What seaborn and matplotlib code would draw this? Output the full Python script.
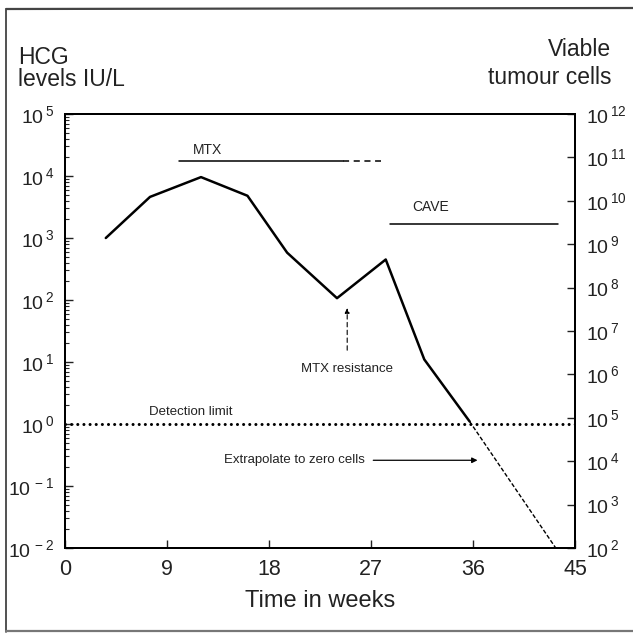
import matplotlib
matplotlib.use('Agg')
from matplotlib import pyplot as plt
from matplotlib.lines import Line2D
import matplotlib.ticker as mtick
import seaborn as sns
import numpy as np

# HCG curve (weeks, IU/L)
weeks = [3.6, 7.5, 12.0, 16.1, 19.6, 24.0, 28.3, 31.7, 35.7]
hcg = [1.0e3, 4.6e3, 9.6e3, 4.8e3, 5.8e2, 1.07e2, 4.5e2, 1.1e1, 1.1]

# extrapolation below the detection limit
extrap_weeks = [35.7, 43.3]
extrap_hcg = [1.1, 1.0e-2]

# treatment bars
mtx_weeks = [10.1, 24.5, 27.9]
mtx_level = 1.75e4
cave_weeks = [28.7, 43.5]
cave_level = 1.7e3

detection_limit = 1.0
resistance_week = 24.9

x_ticks = [0, 9, 18, 27, 36, 45]
left_decades = list(range(-2, 6))
right_decades = list(range(2, 13))

INK = '#222222'


def power_label(v, pos=None):
    return f'$10^{{\\,{int(round(np.log10(v)))}}}$'


sns.set_theme(style='white')
plt.rcParams['font.family'] = ['Liberation Sans', 'DejaVu Sans']
plt.rcParams['mathtext.default'] = 'regular'
plt.rcParams['text.color'] = INK

fig = plt.figure(figsize=(6.33, 6.33), dpi=100)
ax = fig.add_axes([65 / 633, 1 - 548 / 633, 510 / 633, 434 / 633])

sns.lineplot(x=weeks, y=hcg, ax=ax, color='black', lw=1.8, estimator=None)
sns.lineplot(x=extrap_weeks, y=extrap_hcg, ax=ax, color='black', lw=1.0,
             linestyle=(0, (3, 1.5)), estimator=None)

ax.axhline(detection_limit, color='black', lw=2.2, ls=(0, (0.01, 2.0)),
           dash_capstyle='round')

# MTX bar: solid, then trailing dashes
ax.plot(mtx_weeks[:2], [mtx_level] * 2, color='black', lw=1.1)
ax.plot(mtx_weeks[1:], [mtx_level] * 2, color='black', lw=1.1, ls=(0, (4, 3)))
ax.plot(cave_weeks, [cave_level] * 2, color='black', lw=1.1)

ax.text(12.6, 2.6e4, 'MTX', fontsize=10, ha='center', va='center')
ax.text(32.3, 3.2e3, 'CAVE', fontsize=10, ha='center', va='center')
ax.text(11.1, 1.55, 'Detection limit', fontsize=9.5, ha='center', va='center')
ax.text(resistance_week, 7.7, 'MTX resistance', fontsize=9.5, ha='center', va='center')
ax.annotate('', xy=(resistance_week, 74), xytext=(resistance_week, 15.5),
            arrowprops=dict(arrowstyle='-|>', lw=0.8, ls=(0, (4, 3)),
                            color='black', mutation_scale=7, shrinkA=0, shrinkB=0))
ax.text(26.5, 0.26, 'Extrapolate to zero cells', fontsize=9.5, ha='right', va='center')
ax.annotate('', xy=(36.4, 0.26), xytext=(27.2, 0.26),
            arrowprops=dict(arrowstyle='-|>', lw=0.9, color='black',
                            mutation_scale=8, shrinkA=0, shrinkB=0))

ax.set_yscale('log')
ax.set_xlim(0, 45)
ax.set_ylim(1e-2, 1e5)
ax.set_xticks(x_ticks)
ax.set_xticklabels([str(t) for t in x_ticks])
ax.set_yticks([10.0 ** d for d in left_decades])
ax.yaxis.set_major_formatter(mtick.FuncFormatter(power_label))
ax.yaxis.set_minor_locator(mtick.LogLocator(base=10, subs=np.arange(2, 10)))
ax.yaxis.set_minor_formatter(mtick.NullFormatter())
ax.tick_params(axis='x', direction='in', length=6, width=1, labelsize=15.5,
               pad=8, colors=INK, bottom=True)
ax.tick_params(axis='y', which='major', direction='in', length=6, width=1,
               labelsize=14, pad=8, colors=INK, left=True)
ax.tick_params(axis='y', which='minor', direction='in', length=3, width=0.8,
               left=True)
ax.set_xlabel('Time in weeks', fontsize=17, labelpad=7, color=INK)
ax.set_ylabel('')

ax2 = ax.twinx()
ax2.set_yscale('log')
ax2.set_ylim(1e2, 1e12)
ax2.set_yticks([10.0 ** d for d in right_decades])
ax2.yaxis.set_major_formatter(mtick.FuncFormatter(power_label))
ax2.yaxis.set_minor_locator(mtick.NullLocator())
ax2.tick_params(axis='y', direction='in', length=6, width=1, labelsize=14,
                pad=8, colors=INK, right=True)

for a in (ax, ax2):
    for s in a.spines.values():
        s.set_color('black')
        s.set_linewidth(1.4)

fig.text(18 / 633, 1 - 57 / 633, 'HCG', fontsize=16.5, ha='left', va='center')
fig.text(18 / 633, 1 - 80 / 633, 'levels IU/L', fontsize=16.5, ha='left', va='center')
fig.text(611 / 633, 1 - 50 / 633, 'Viable', fontsize=16.5, ha='right', va='center')
fig.text(611 / 633, 1 - 77 / 633, 'tumour cells', fontsize=16.5, ha='right', va='center')

# scanned page border
fig.add_artist(Line2D([6 / 633, 6 / 633], [1 - 10 / 633, 1 - 632 / 633],
                      color='#333333', lw=1.2))
fig.add_artist(Line2D([6 / 633, 1], [1 - 9 / 633, 1 - 8 / 633],
                      color='#444444', lw=1.6))
fig.add_artist(Line2D([6 / 633, 1], [1 - 631 / 633, 1 - 631 / 633],
                      color='#777777', lw=1.6))

plt.savefig('out.png', dpi=100)
